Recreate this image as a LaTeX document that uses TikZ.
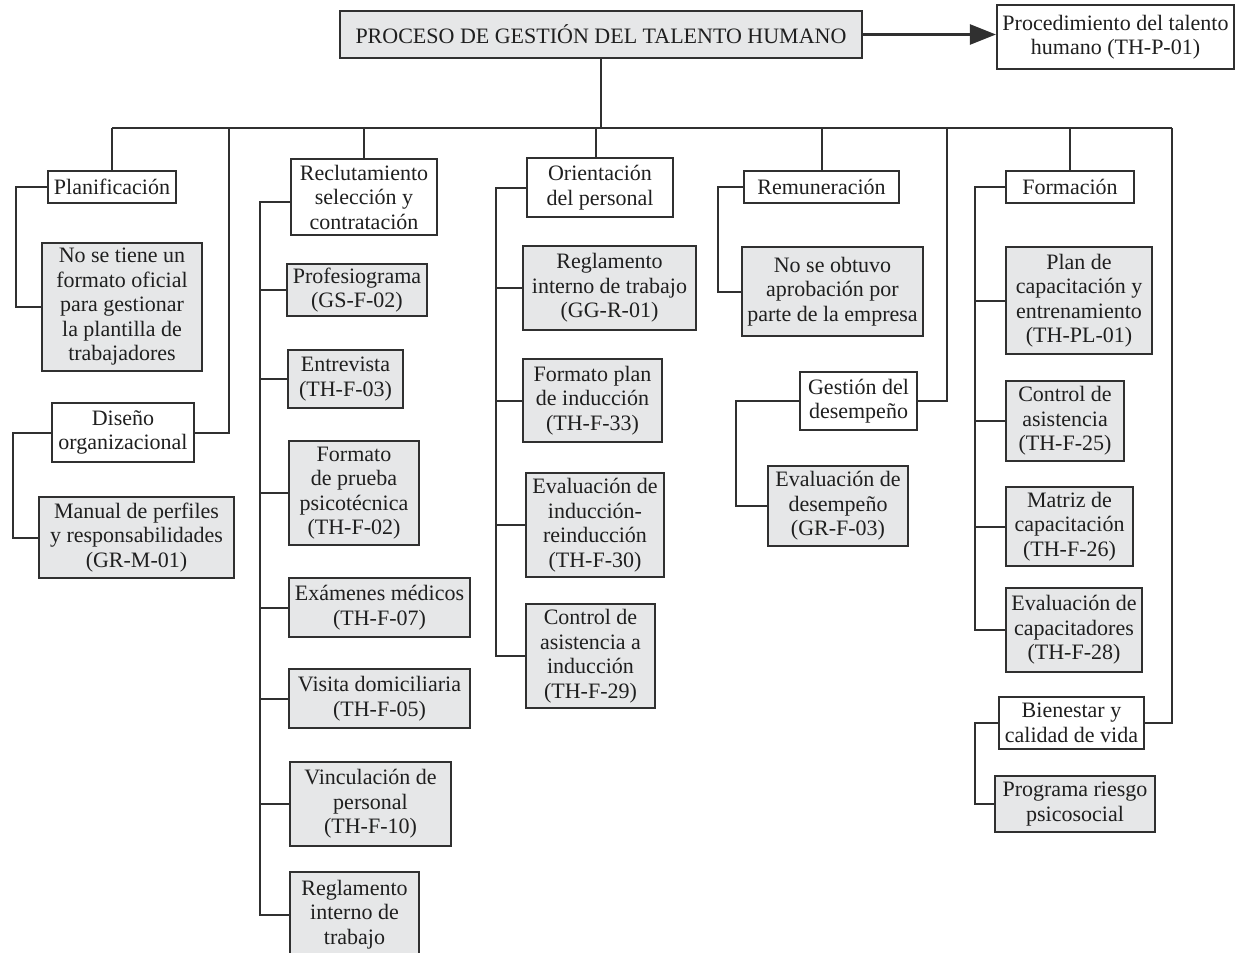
\documentclass[tikz,border=0pt]{standalone}
\usepackage{fontspec}
\setmainfont{Liberation Serif}
\usetikzlibrary{arrows.meta}
\definecolor{boxgray}{HTML}{E6E7E8}
\definecolor{ink}{HTML}{303030}
\begin{document}
\begin{tikzpicture}[x=0.5pt,y=-0.5pt,
  base/.style={draw=ink, line width=1.1pt, inner sep=0pt, align=center,
               font=\fontsize{11}{12.25}\selectfont, text=black!88},
  wbox/.style={base, fill=white},
  gbox/.style={base, fill=boxgray},
  % box given by its left, top, right and bottom edges
  area/.style n args={4}{minimum width={(#3-#1)*0.5pt}, minimum height={(#4-#2)*0.5pt},
                         at={({(#1+#3)/2},{(#2+#4)/2})}},
  link/.style={draw=ink, line width=1pt},
]
\useasboundingbox (0,0) rectangle (1248,953);

% top level
\node[gbox, font=\fontsize{11}{12.25}\selectfont, area={340}{11}{862}{58}] (title) {PROCESO DE GESTIÓN DEL TALENTO HUMANO};
\node[wbox, area={997}{5}{1234}{69}] (proc) {Procedimiento del talento\\humano (TH-P-01)};

% first column: planning and organisational design
\node[wbox, area={48}{171}{176}{203}] (plan) {Planificación};
\node[gbox, area={42}{243}{202}{371}] (nose) {No se tiene un\\formato oficial\\para gestionar\\la plantilla de\\trabajadores};
\node[wbox, area={52}{403}{194}{462}] (dis) {Diseño\\organizacional};
\node[gbox, area={39}{497}{234}{578}] (man) {Manual de perfiles\\y responsabilidades\\(GR-M-01)};

% recruitment
\node[wbox, area={291}{159}{437}{235}] (rec) {Reclutamiento\\selección y\\contratación};
\node[gbox, area={287}{264}{427}{316}] (prof) {Profesiograma\\(GS-F-02)};
\node[gbox, area={288}{350}{403}{408}] (entr) {Entrevista\\(TH-F-03)};
\node[gbox, area={289}{441}{419}{545}] (fpp) {Formato\\de prueba\\psicotécnica\\(TH-F-02)};
\node[gbox, area={289}{578}{470}{637}] (exa) {Exámenes médicos\\(TH-F-07)};
\node[gbox, area={289}{669}{470}{728}] (vis) {Visita domiciliaria\\(TH-F-05)};
\node[gbox, area={290}{762}{451}{846}] (vin) {Vinculación de\\personal\\(TH-F-10)};
\node[gbox, area={290}{872}{419}{957}] (reg) {Reglamento\\interno de\\trabajo};

% induction
\node[wbox, area={527}{158}{673}{217}] (ori) {Orientación\\del personal};
\node[gbox, area={523}{246}{696}{330}] (rgi) {Reglamento\\interno de trabajo\\(GG-R-01)};
\node[gbox, area={523}{359}{662}{442}] (fpl) {Formato plan\\de inducción\\(TH-F-33)};
\node[gbox, area={526}{473}{664}{577}] (evi) {Evaluación de\\inducción-\\reinducción\\(TH-F-30)};
\node[gbox, area={526}{604}{655}{708}] (cai) {Control de\\asistencia a\\inducción\\(TH-F-29)};

% pay and performance
\node[wbox, area={744}{171}{899}{203}] (rem) {Remuneración};
\node[gbox, area={742}{247}{923}{336}] (nso) {No se obtuvo\\aprobación por\\parte de la empresa};
\node[wbox, area={800}{372}{917}{430}] (ges) {Gestión del\\desempeño};
\node[gbox, area={768}{466}{908}{546}] (evd) {Evaluación de\\desempeño\\(GR-F-03)};

% training and well-being
\node[wbox, area={1006}{171}{1134}{203}] (form) {Formación};
\node[gbox, area={1006}{247}{1152}{354}] (pca) {Plan de\\capacitación y\\entrenamiento\\(TH-PL-01)};
\node[gbox, area={1006}{381}{1124}{461}] (cas) {Control de\\asistencia\\(TH-F-25)};
\node[gbox, area={1006}{487}{1133}{566}] (mat) {Matriz de\\capacitación\\(TH-F-26)};
\node[gbox, area={1006}{588}{1142}{672}] (evc) {Evaluación de\\capacitadores\\(TH-F-28)};
\node[wbox, area={999}{697}{1144}{749}] (bien) {Bienestar y\\calidad de vida};
\node[gbox, area={995}{776}{1155}{832}] (prog) {Programa riesgo\\psicosocial};

% helper coordinates for the bus and the side trunks
\coordinate (bus) at (0,128);
\coordinate (disup) at (229,128);
\coordinate (gesup) at (947,128);
\coordinate (bienup) at (1172,128);
\coordinate (tplan) at (16,0);
\coordinate (tdis) at (13,0);
\coordinate (trec) at (260,0);
\coordinate (tori) at (496,0);
\coordinate (trem) at (718,0);
\coordinate (tges) at (736,0);
\coordinate (tform) at (975,0);

% main arrow and bus
\draw[link, line width=1.3pt, -{Triangle[length=13pt,width=10pt]}] (title.east) -- (title.east -| proc.west);
\draw[link] (title.south) -- (title.south |- bus);
\draw[link] (plan.north |- bus) -- (bienup);

% drops from the bus
\draw[link] (plan.north) -- (plan.north |- bus);
\draw[link] (dis.east) -| (disup);
\draw[link] (rec.north) -- (rec.north |- bus);
\draw[link] ([xshift=-2pt]ori.north) -- ([xshift=-2pt]ori.north |- bus);
\draw[link] (rem.north) -- (rem.north |- bus);
\draw[link] (ges.east) -| (gesup);
\draw[link] (form.north) -- (form.north |- bus);
\draw[link] (bien.east) -| (bienup);

% planning and design
\draw[link] (plan.west) -- (plan.west -| tplan) |- (nose.west);
\draw[link] (dis.west) -- (dis.west -| tdis) |- (man.west);

% recruitment trunk
\draw[link] ([yshift=-2.5pt]rec.west) -- ([yshift=-2.5pt]rec.west -| trec) |- (reg.west);
\foreach \n in {prof,entr,fpp,exa,vis,vin}
  \draw[link] (\n.west) -- (\n.west -| trec);

% induction trunk
\draw[link] (ori.west) -- (ori.west -| tori) |- (cai.west);
\foreach \n in {rgi,fpl,evi}
  \draw[link] (\n.west) -- (\n.west -| tori);

% pay and performance
\draw[link] (rem.west) -- (rem.west -| trem) |- (nso.west);
\draw[link] (ges.west) -- (ges.west -| tges) |- (evd.west);

% training trunk
\draw[link] (form.west) -- (form.west -| tform) |- (evc.west);
\foreach \n in {pca,cas,mat}
  \draw[link] (\n.west) -- (\n.west -| tform);
\draw[link] (bien.west) -- (bien.west -| tform) |- (prog.west);
\end{tikzpicture}
\end{document}
